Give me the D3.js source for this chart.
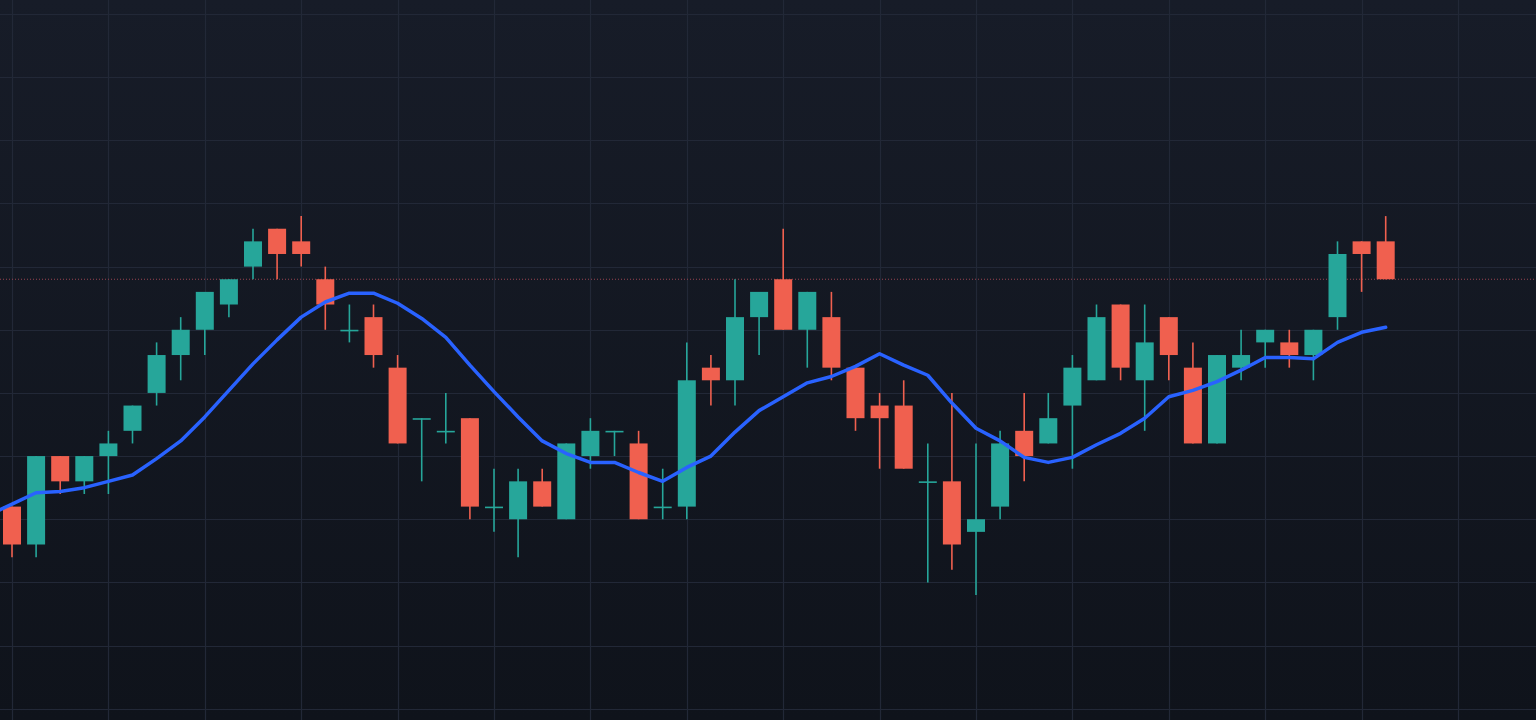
<!doctype html>
<html lang="en">
<head>
    <meta charset="UTF-8">
    <title>D3: Candles with moving average</title>
    <script type="text/javascript" src="https://cdn.jsdelivr.net/npm/d3@7"></script>
    <style type="text/css">
        html, body {
            margin: 0;
            padding: 0;
            overflow: hidden;
            background-color: #131722;
        }
    </style>
</head>
<body>

<script type="text/javascript">
    var w = 1536;
    var h = 720;

    // candle values, one entry per bar
    var opens  = [16, 13, 20, 18, 20, 22, 25, 28, 30, 32, 35, 38, 37, 34, 30, 31, 27, 23, 22, 23,
                  16, 15, 18, 15, 20, 22, 21, 16, 16, 27, 26, 31, 34, 30, 31, 27, 24, 24, 18, 18,
                  14, 16, 22, 21, 24, 26, 32, 26, 31, 27, 21, 27, 29, 29, 28, 31, 37, 37];
    var highs  = [16, 20, 20, 20, 22, 24, 29, 31, 33, 34, 38, 38, 39, 35, 32, 32, 28, 23, 25, 23,
                  19, 19, 19, 21, 23, 22, 22, 19, 29, 28, 34, 33, 38, 33, 33, 27, 25, 26, 21, 25,
                  21, 22, 25, 25, 28, 32, 32, 32, 31, 29, 28, 30, 30, 30, 30, 37, 37, 39];
    var lows   = [12, 12, 17, 17, 17, 21, 24, 26, 28, 31, 34, 34, 35, 30, 29, 27, 21, 18, 21, 15,
                  14, 12, 16, 15, 19, 20, 15, 15, 15, 24, 24, 28, 30, 27, 26, 22, 19, 19, 10, 11,
                   9, 15, 18, 21, 19, 26, 26, 22, 26, 21, 21, 26, 27, 27, 26, 30, 33, 34];
    var closes = [13, 20, 18, 20, 21, 24, 28, 30, 33, 34, 37, 36, 36, 32, 30, 28, 21, 23, 22, 16,
                  16, 18, 16, 21, 22, 22, 15, 16, 26, 26, 31, 33, 30, 33, 27, 23, 23, 19, 18, 13,
                  15, 21, 20, 23, 27, 31, 27, 29, 28, 21, 28, 28, 30, 28, 30, 36, 36, 34];

    // moving average, starts one bar before the first candle
    var maFirst = -1;
    var ma = [15.3, 16.2, 17.1, 17.2, 17.5, 18.0, 18.5, 19.8, 21.2, 23.1, 25.2, 27.3, 29.2, 31.0, 32.2,
              32.9, 32.9, 32.1, 30.9, 29.4, 27.2, 25.1, 23.1, 21.2, 20.2, 19.5, 19.5, 18.7, 18.0, 19.1,
              20.0, 21.9, 23.6, 24.7, 25.8, 26.3, 27.1, 28.1, 27.2, 26.4, 24.2, 22.2, 21.2, 19.9, 19.5,
              19.9, 20.9, 21.8, 23.0, 24.7, 25.2, 25.9, 26.8, 27.8, 27.8, 27.7, 29.0, 29.8, 30.2];

    var gridPrices = [0, 5, 10, 15, 20, 25, 30, 35, 40, 45, 50, 55];
    var gridBars = [0, 4, 8, 12, 16, 20, 24, 28, 32, 36, 40, 44, 48, 52, 56, 60];

    var up = "#26a69a";
    var down = "#f0604f";

    var candles = opens.map(function (o, i) {
        return {i: i, o: o, h: highs[i], l: lows[i], c: closes[i]};
    });

    var x_scale = d3.scaleLinear().domain([0, 57]).range([12, 1385.7]);
    var y_scale = d3.scaleLinear().domain([0, 55]).range([708.7, 14]);
    var bodyW = 18;

    var svg = d3.select("body").append("svg").attr("width", w).attr("height", h);

    var grad = svg.append("defs").append("linearGradient")
        .attr("id", "bg").attr("x1", 0).attr("y1", 0).attr("x2", 0).attr("y2", 1);
    grad.append("stop").attr("offset", "0%").attr("stop-color", "#171c28");
    grad.append("stop").attr("offset", "100%").attr("stop-color", "#0f131b");
    svg.append("rect").attr("width", w).attr("height", h).attr("fill", "url(#bg)");

    // grid
    svg.append("g").selectAll("line")
        .data(gridPrices)
        .enter()
        .append("line")
        .attr("x1", 0).attr("x2", w)
        .attr("y1", function (d) { return Math.round(y_scale(d)) + 0.5; })
        .attr("y2", function (d) { return Math.round(y_scale(d)) + 0.5; })
        .attr("stroke", "#222837")
        .attr("stroke-width", 1.2);
    svg.append("g").selectAll("line")
        .data(gridBars)
        .enter()
        .append("line")
        .attr("y1", 0).attr("y2", h)
        .attr("x1", function (d) { return Math.round(x_scale(d)) + 0.5; })
        .attr("x2", function (d) { return Math.round(x_scale(d)) + 0.5; })
        .attr("stroke", "#222837")
        .attr("stroke-width", 1.2);

    // last price line
    var last = closes[closes.length - 1];
    svg.append("line")
        .attr("x1", 0).attr("x2", w)
        .attr("y1", y_scale(last)).attr("y2", y_scale(last))
        .attr("stroke", "#9a4552")
        .attr("stroke-width", 1)
        .attr("stroke-dasharray", "1,2");

    var g = svg.append("g");

    // wicks
    g.selectAll("line.wick")
        .data(candles)
        .enter()
        .append("line")
        .attr("class", "wick")
        .attr("x1", function (d) { return x_scale(d.i); })
        .attr("x2", function (d) { return x_scale(d.i); })
        .attr("y1", function (d) { return y_scale(d.h); })
        .attr("y2", function (d) { return y_scale(d.l); })
        .attr("stroke", function (d) { return d.c >= d.o ? up : down; })
        .attr("stroke-width", 1.6);

    // bodies
    g.selectAll("rect.body")
        .data(candles)
        .enter()
        .append("rect")
        .attr("class", "body")
        .attr("x", function (d) { return x_scale(d.i) - bodyW / 2; })
        .attr("y", function (d) { return y_scale(Math.max(d.o, d.c)); })
        .attr("width", bodyW)
        .attr("height", function (d) {
            return Math.max(1.6, Math.abs(y_scale(d.o) - y_scale(d.c)));
        })
        .attr("fill", function (d) { return d.c >= d.o ? up : down; });

    // moving average
    var line = d3.line()
        .x(function (d, i) { return x_scale(i + maFirst); })
        .y(function (d) { return y_scale(d); });
    svg.append("path")
        .datum(ma)
        .attr("d", line)
        .attr("fill", "none")
        .attr("stroke", "#2962ff")
        .attr("stroke-width", 3.5)
        .attr("stroke-linejoin", "round")
        .attr("stroke-linecap", "round");
</script>

</body>
</html>
